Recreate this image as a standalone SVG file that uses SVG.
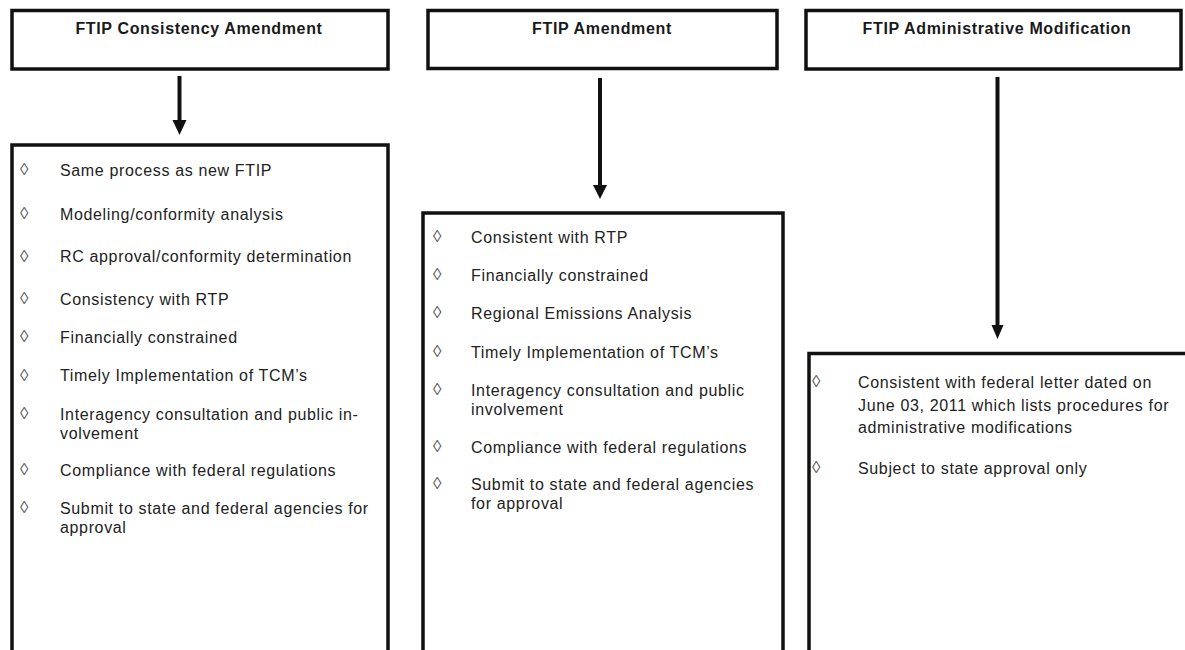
<svg xmlns="http://www.w3.org/2000/svg" width="1185" height="650" viewBox="0 0 1185 650">
<style>
.box{fill:#fff;stroke:#111;stroke-width:3.5}
.title{font-family:"Liberation Sans",Arial,sans-serif;font-size:16px;font-weight:bold;letter-spacing:0.65px;fill:#1a1a1a;text-anchor:middle}
.t{font-family:"Liberation Sans",Arial,sans-serif;font-size:16px;letter-spacing:0.65px;fill:#222}
.b{font-family:"Liberation Sans","DejaVu Sans",sans-serif;font-size:17px;fill:#555}
.shaft{stroke:#111;stroke-width:4;fill:none}
.head{fill:#111}
</style>
<rect width="1185" height="650" fill="#fff"/>
<g id="n-consistency-title">
<rect class="box" x="12" y="10.5" width="376" height="58.5"/>
<text class="title" x="199" y="33.5">FTIP Consistency Amendment</text>
</g>
<g id="n-amendment-title">
<rect class="box" x="428" y="10.5" width="349" height="58"/>
<text class="title" x="602" y="33.5">FTIP Amendment</text>
</g>
<g id="n-admin-title">
<rect class="box" x="806" y="10.5" width="375" height="58.5"/>
<text class="title" x="997" y="33.5">FTIP Administrative Modification</text>
</g>
<g id="connectors">
<line class="shaft" x1="179.5" y1="76" x2="179.5" y2="122"/>
<polygon class="head" points="172.5,120 186.5,120 179.5,135"/>
<line class="shaft" x1="600" y1="78" x2="600" y2="187"/>
<polygon class="head" points="593,185 607,185 600,199"/>
<line class="shaft" x1="997.5" y1="77" x2="997.5" y2="327"/>
<polygon class="head" points="991.5,325 1003.5,325 997.5,339"/>
</g>
<g id="n-consistency-list">
<rect class="box" x="12" y="145" width="376" height="520"/>
<text class="b" x="20" y="175">◊</text><text class="t" x="60" y="175.5">Same process as new FTIP</text>
<text class="b" x="20" y="219">◊</text><text class="t" x="60" y="219.5">Modeling/conformity analysis</text>
<text class="b" x="20" y="261.5">◊</text><text class="t" x="60" y="262">RC approval/conformity determination</text>
<text class="b" x="20" y="304">◊</text><text class="t" x="60" y="304.5">Consistency with RTP</text>
<text class="b" x="20" y="342">◊</text><text class="t" x="60" y="342.5">Financially constrained</text>
<text class="b" x="20" y="380.5">◊</text><text class="t" x="60" y="381">Timely Implementation of TCM’s</text>
<text class="b" x="20" y="419">◊</text><text class="t" x="60" y="419.5">Interagency consultation and public in-</text>
<text class="t" x="60" y="438.5">volvement</text>
<text class="b" x="20" y="475">◊</text><text class="t" x="60" y="475.5">Compliance with federal regulations</text>
<text class="b" x="20" y="513">◊</text><text class="t" x="60" y="513.5">Submit to state and federal agencies for</text>
<text class="t" x="60" y="532.5">approval</text>
</g>
<g id="n-amendment-list">
<rect class="box" x="423" y="213" width="360" height="452"/>
<text class="b" x="433" y="242">◊</text><text class="t" x="471" y="242.5">Consistent with RTP</text>
<text class="b" x="433" y="280">◊</text><text class="t" x="471" y="280.5">Financially constrained</text>
<text class="b" x="433" y="318">◊</text><text class="t" x="471" y="318.5">Regional Emissions Analysis</text>
<text class="b" x="433" y="357">◊</text><text class="t" x="471" y="357.5">Timely Implementation of TCM’s</text>
<text class="b" x="433" y="395">◊</text><text class="t" x="471" y="395.5">Interagency consultation and public</text>
<text class="t" x="471" y="414.5">involvement</text>
<text class="b" x="433" y="452">◊</text><text class="t" x="471" y="452.5">Compliance with federal regulations</text>
<text class="b" x="433" y="489">◊</text><text class="t" x="471" y="489.5">Submit to state and federal agencies</text>
<text class="t" x="471" y="508.5">for approval</text>
</g>
<g id="n-admin-list">
<rect class="box" x="809" y="353.5" width="390" height="320"/>
<text class="b" x="812" y="387">◊</text><text class="t" x="858" y="387.5">Consistent with federal letter dated on</text>
<text class="t" x="858" y="410.5">June 03, 2011 which lists procedures for</text>
<text class="t" x="858" y="432.5">administrative modifications</text>
<text class="b" x="812" y="473">◊</text><text class="t" x="858" y="473.5">Subject to state approval only</text>
</g>
</svg>
